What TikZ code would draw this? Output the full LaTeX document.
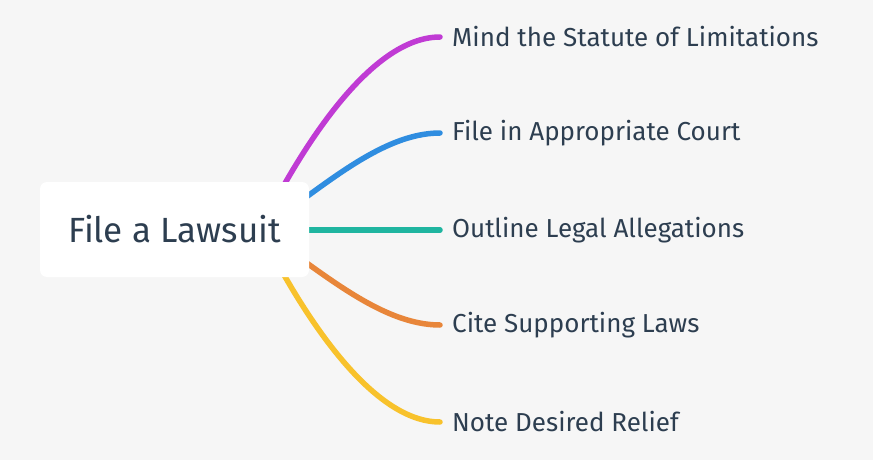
\documentclass[tikz,border=0pt]{standalone}
\usepackage{fontspec}
\setmainfont{Fira Sans}
\definecolor{bg}{HTML}{F6F6F6}
\definecolor{ink}{HTML}{2D3E50}
\definecolor{cpurple}{HTML}{C03BD4}
\definecolor{cblue}{HTML}{2F8DE0}
\definecolor{cteal}{HTML}{1FB5A0}
\definecolor{corange}{HTML}{E8863A}
\definecolor{cyellow}{HTML}{F8C22C}
\begin{document}
\begin{tikzpicture}[x=1pt,y=-1pt,
  branch/.style={line width=5.5pt,line cap=round},
  leaf/.style={anchor=west,text=ink,font=\fontsize{26}{30}\selectfont,inner sep=0pt},
  rootbox/.style={fill=white,rounded corners=7pt,minimum width=269pt,minimum height=95pt,text=ink,font=\fontsize{35}{40}\selectfont}]
\fill[bg] (0,0) rectangle (873,460);
\useasboundingbox (0,0) rectangle (873,460);
\coordinate (o) at (260,230);
\coordinate (e1) at (440,37);
\coordinate (e2) at (440,133);
\coordinate (e3) at (440,230);
\coordinate (e4) at (440,325);
\coordinate (e5) at (440,422);
\draw[branch,cpurple] (o) .. controls (300,150) and (370,37) .. (e1);
\draw[branch,cblue] (o) .. controls (320,190) and (380,133) .. (e2);
\draw[branch,cteal] (o) -- (e3);
\draw[branch,corange] (o) .. controls (320,270) and (380,325) .. (e4);
\draw[branch,cyellow] (o) .. controls (300,310) and (370,422) .. (e5);
\node[rootbox] (root) at (174.5,229.5) {File a Lawsuit};
\node[leaf] (l1) at ([xshift=12pt]e1) {Mind the Statute of Limitations};
\node[leaf] (l2) at ([xshift=12pt]e2) {File in Appropriate Court};
\node[leaf] (l3) at ([xshift=12pt]e3) {Outline Legal Allegations};
\node[leaf] (l4) at ([xshift=12pt]e4) {Cite Supporting Laws};
\node[leaf] (l5) at ([xshift=12pt]e5) {Note Desired Relief};
\end{tikzpicture}
\end{document}
